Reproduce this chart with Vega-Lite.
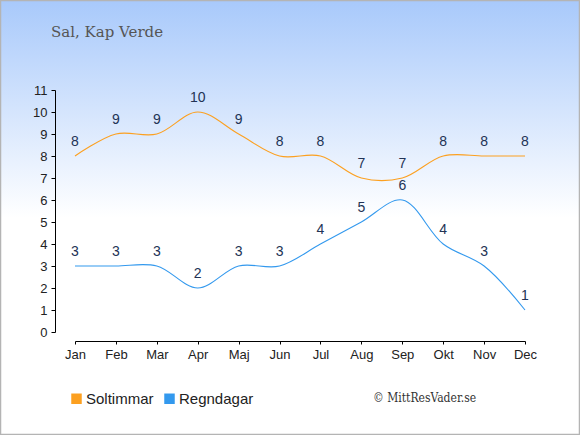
{
  "$schema": "https://vega.github.io/schema/vega-lite/v6.json",
  "width": 450,
  "height": 242,
  "autosize": "none",
  "padding": {"left": 75, "top": 90, "right": 55, "bottom": 103},
  "background": "#ffffff",
  "title": {
    "text": "Sal, Kap Verde",
    "anchor": "start",
    "frame": "group",
    "dx": -24,
    "offset": -41,
    "font": "DejaVu Serif",
    "fontSize": 15,
    "fontWeight": "normal",
    "color": "#555555",
    "zindex": 2
  },
  "datasets": {
    "weather": [
      {"m": 1, "month": "Jan", "series": "Soltimmar", "value": 8},
      {"m": 2, "month": "Feb", "series": "Soltimmar", "value": 9},
      {"m": 3, "month": "Mar", "series": "Soltimmar", "value": 9},
      {"m": 4, "month": "Apr", "series": "Soltimmar", "value": 10},
      {"m": 5, "month": "Maj", "series": "Soltimmar", "value": 9},
      {"m": 6, "month": "Jun", "series": "Soltimmar", "value": 8},
      {"m": 7, "month": "Jul", "series": "Soltimmar", "value": 8},
      {"m": 8, "month": "Aug", "series": "Soltimmar", "value": 7},
      {"m": 9, "month": "Sep", "series": "Soltimmar", "value": 7},
      {"m": 10, "month": "Okt", "series": "Soltimmar", "value": 8},
      {"m": 11, "month": "Nov", "series": "Soltimmar", "value": 8},
      {"m": 12, "month": "Dec", "series": "Soltimmar", "value": 8},
      {"m": 1, "month": "Jan", "series": "Regndagar", "value": 3},
      {"m": 2, "month": "Feb", "series": "Regndagar", "value": 3},
      {"m": 3, "month": "Mar", "series": "Regndagar", "value": 3},
      {"m": 4, "month": "Apr", "series": "Regndagar", "value": 2},
      {"m": 5, "month": "Maj", "series": "Regndagar", "value": 3},
      {"m": 6, "month": "Jun", "series": "Regndagar", "value": 3},
      {"m": 7, "month": "Jul", "series": "Regndagar", "value": 4},
      {"m": 8, "month": "Aug", "series": "Regndagar", "value": 5},
      {"m": 9, "month": "Sep", "series": "Regndagar", "value": 6},
      {"m": 10, "month": "Okt", "series": "Regndagar", "value": 4},
      {"m": 11, "month": "Nov", "series": "Regndagar", "value": 3},
      {"m": 12, "month": "Dec", "series": "Regndagar", "value": 1}
    ]
  },
  "config": {
    "view": {"stroke": null},
    "font": "Liberation Sans"
  },
  "layer": [
    {
      "data": {"values": [{"bg": 1}]},
      "mark": {
        "type": "rect",
        "clip": false,
        "stroke": "#b4b4b4",
        "strokeWidth": 2.5,
        "fill": {
          "gradient": "linear",
          "x1": 0, "y1": 0, "x2": 0, "y2": 1,
          "stops": [
            {"offset": 0, "color": "#a8c9fb"},
            {"offset": 0.5, "color": "#ffffff"},
            {"offset": 1, "color": "#ffffff"}
          ]
        }
      },
      "encoding": {
        "x": {
          "datum": -0.8333,
          "type": "quantitative",
          "scale": {"domain": [1, 12], "nice": false, "zero": false},
          "axis": {
            "title": null,
            "zindex": 1,
            "offset": 9,
            "values": [1,2,3,4,5,6,7,8,9,10,11,12],
            "tickCount": 12,
            "labelExpr": "['Jan','Feb','Mar','Apr','Maj','Jun','Jul','Aug','Sep','Okt','Nov','Dec'][datum.value - 1]",
            "labelAngle": 0,
            "labelOverlap": false,
            "labelFlush": false,
            "domainColor": "#000000",
            "tickColor": "#000000",
            "tickSize": 3,
            "labelPadding": 4,
            "labelFontSize": 13,
            "labelColor": "#222222",
            "grid": false
          }
        },
        "x2": {"datum": 13.3444},
        "y": {
          "datum": 15.0909,
          "type": "quantitative",
          "scale": {"domain": [0, 11], "nice": false, "zero": false},
          "axis": {
            "title": null,
            "zindex": 1,
            "offset": 20,
            "values": [0,1,2,3,4,5,6,7,8,9,10,11],
            "tickCount": 12,
            "format": "d",
            "labelOverlap": false,
            "labelFlush": false,
            "domainColor": "#000000",
            "tickColor": "#000000",
            "tickSize": 4,
            "labelPadding": 4,
            "labelFontSize": 13,
            "labelColor": "#222222",
            "grid": false
          }
        },
        "y2": {"datum": -4.6818}
      }
    },
    {
      "data": {"name": "weather"},
      "mark": {"type": "line", "interpolate": "catmull-rom", "strokeWidth": 1.1, "clip": false},
      "encoding": {
        "x": {"field": "m", "type": "quantitative"},
        "y": {"field": "value", "type": "quantitative"},
        "color": {
          "field": "series",
          "type": "nominal",
          "scale": {"domain": ["Soltimmar", "Regndagar"], "range": ["#fca020", "#3399ee"]},
          "legend": {
            "title": null,
            "orient": "none",
            "direction": "horizontal",
            "legendX": -6,
            "legendY": 301,
            "symbolType": "square",
            "symbolSize": 110,
            "symbolStrokeWidth": 0,
            "symbolOpacity": 1,
            "labelFontSize": 15,
            "labelColor": "#222222",
            "labelOffset": 2,
            "columnPadding": 8,
            "encode": {
              "symbols": {
                "update": {
                  "fill": {"scale": "color", "field": "value"},
                  "fillOpacity": {"value": 1},
                  "strokeWidth": {"value": 0}
                }
              }
            }
          }
        }
      }
    },
    {
      "data": {"name": "weather"},
      "mark": {"type": "text", "dy": -14, "fontSize": 14, "color": "#223355", "baseline": "middle", "clip": false},
      "encoding": {
        "x": {"field": "m", "type": "quantitative"},
        "y": {"field": "value", "type": "quantitative"},
        "text": {"field": "value", "type": "quantitative"}
      }
    },
    {
      "data": {"values": [{"label": "© MittResVader.se"}]},
      "mark": {"type": "text", "align": "right", "baseline": "middle", "dx": -8, "font": "DejaVu Serif Condensed", "fontSize": 12, "color": "#333333", "clip": false},
      "encoding": {
        "x": {"datum": 11, "type": "quantitative"},
        "y": {"datum": -3, "type": "quantitative"},
        "text": {"field": "label"}
      }
    }
  ]
}
